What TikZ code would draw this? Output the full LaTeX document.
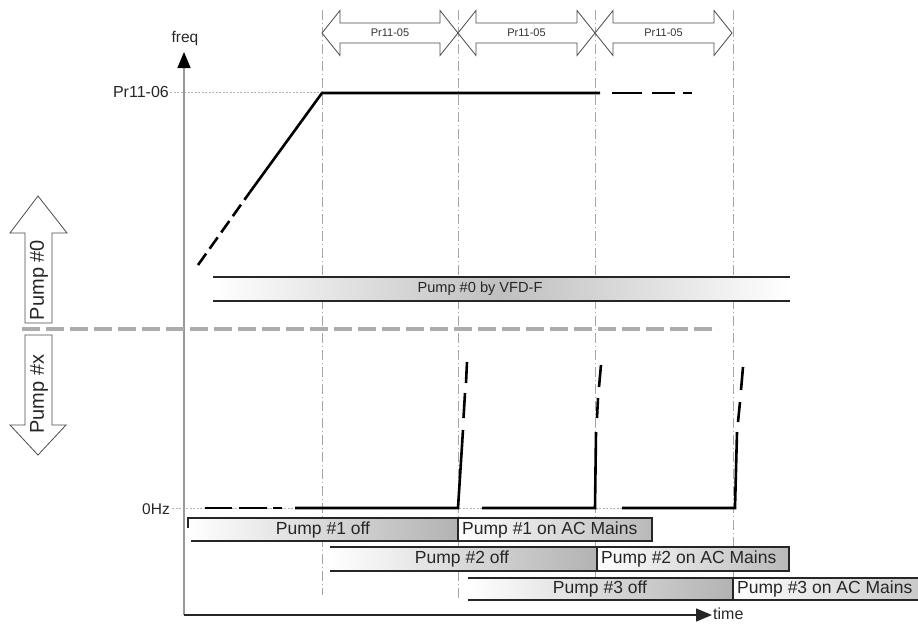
\documentclass[tikz,border=0pt]{standalone}
\usepackage{fontspec}
\setmainfont{Liberation Sans}
\usetikzlibrary{arrows.meta}
\tikzset{
  curve/.style={line width=2.6pt, black},
  vguide/.style={gray!70, line width=0.7pt, dash pattern=on 10pt off 3pt on 1pt off 3pt},
  dotguide/.style={gray!60, line width=0.8pt, dash pattern=on 2pt off 1.5pt},
  barline/.style={line width=1.3pt, black!85},
  bartext/.style={inner sep=0pt, font=\fontsize{17.5}{20}\selectfont, text=black!85},
  arrowbox/.style={draw=black!70, line width=0.8pt, fill=white},
  axislabel/.style={inner sep=0pt, font=\fontsize{16}{18}\selectfont, text=black!85}
}
\begin{document}
\begin{tikzpicture}[x=1pt,y=-1pt]
\useasboundingbox (0,0) rectangle (918,627);

% vertical guide lines
\draw[vguide] (322,10) -- (322,595);
\draw[vguide] (458,10) -- (458,598);
\draw[vguide] (595,10) -- (595,578);
\draw[vguide] (733,10) -- (733,578);

% dotted level lines
\draw[dotguide] (170,92) -- (322,92);
\draw[dotguide] (172,508) -- (735,508);

% Pr11-05 double arrows
\foreach \xa/\xb/\nm in {322/458/pa,458/595/pb,595/732/pc}{
  \draw[arrowbox] (\xa,33) -- (\xa+18,10.5) -- (\xa+18,23) -- (\xb-18,23) -- (\xb-18,10.5)
     -- (\xb,33) -- (\xb-18,55.5) -- (\xb-18,43) -- (\xa+18,43) -- (\xa+18,55.5) -- cycle;
  \node[inner sep=0pt, font=\fontsize{11}{12}\selectfont, text=black!80] (\nm) at ({(\xa+\xb)/2},33) {Pr11-05};
}

% axes
\coordinate (origin) at (184,615);
\coordinate (ytop) at (184,52);
\coordinate (xend) at (712,615);
\draw[gray!80, line width=1.4pt, -{Triangle[length=16pt,width=13pt,color=black]}] (origin) -- (ytop);
\draw[black!85, line width=1.4pt, -{Triangle[length=16pt,width=13pt]}] (origin) -- (xend);
\node[axislabel, font=\fontsize{15.5}{18}\selectfont] (freq) at (185,38) {freq};
\node[axislabel, anchor=west] (time) at (713,614) {time};
\node[axislabel, anchor=east] (pr1106) at (169,92) {Pr11-06};
\node[axislabel, anchor=east, font=\fontsize{15.5}{18}\selectfont] (zerohz) at (170,509) {0Hz};

% Pump #0 / Pump #x arrows
\draw[arrowbox] (38,196) -- (67,233) -- (52,233) -- (52,323) -- (25,323) -- (25,233) -- (10,233) -- cycle;
\node[inner sep=0pt, rotate=90, font=\fontsize{20}{22}\selectfont, text=black!85] (p0) at (39,280) {Pump \#0};
\draw[arrowbox] (38,455) -- (66,425) -- (52,425) -- (52,335) -- (25,335) -- (25,425) -- (10,425) -- cycle;
\node[inner sep=0pt, rotate=90, font=\fontsize{20}{22}\selectfont, text=black!85] (px) at (39,394) {Pump \#x};

% separator
\draw[gray!65, line width=4pt, dash pattern=on 18pt off 6pt] (22,329) -- (718,329);

% Pump #0 by VFD-F bar
\shade[left color=white, right color=white, middle color=gray!50] (213,277) rectangle (790,301);
\draw[barline] (213,277) -- (790,277);
\draw[barline] (213,301) -- (790,301);
\node[inner sep=0pt, font=\fontsize{14.6}{17}\selectfont, text=black!85] (vfd) at (480,289) {Pump \#0 by VFD-F};

% pump bars
\shade[left color=white, right color=gray!60] (188,518) rectangle (458,541);
\draw[barline] (188,528) -- (188,518) -- (458,518);
\draw[barline] (191,541) -- (458,541);
\node[bartext] (p1off) at (323,529.5) {Pump \#1 off};
\shade[left color=white, right color=gray!55] (458,518) rectangle (652,541);
\draw[barline] (458,518) rectangle (652,541);
\node[bartext, anchor=west] (p1on) at (462,529.5) {Pump \#1 on AC Mains};

\shade[left color=white, right color=gray!60] (330,547) rectangle (597,571);
\draw[barline] (330,547) -- (597,547);
\draw[barline] (330,571) -- (597,571);
\node[bartext] (p2off) at (462,559) {Pump \#2 off};
\shade[left color=white, right color=gray!55] (597,547) rectangle (789,571);
\draw[barline] (597,547) rectangle (789,571);
\node[bartext, anchor=west] (p2on) at (601,559) {Pump \#2 on AC Mains};

\shade[left color=white, right color=gray!60] (468,578) rectangle (733,600);
\draw[barline] (468,578) -- (733,578);
\draw[barline] (468,600) -- (733,600);
\node[bartext] (p3off) at (600,589) {Pump \#3 off};
\shade[left color=white, right color=gray!45] (733,578) rectangle (930,600);
\draw[barline] (930,578) -- (733,578) -- (733,600) -- (930,600);
\node[bartext, anchor=west] (p3on) at (737,589) {Pump \#3 on AC Mains};

% frequency curve of pump #0
\draw[curve, dash pattern=on 14pt off 6pt] (198,265) -- (250,192);
\draw[curve] (250,192) -- (322,93) -- (600,93);
\draw[curve] (612,93) -- (642,93);
\draw[curve] (652,93) -- (675,93);
\draw[curve] (683,93) -- (692,93);

% frequency curves of pumps #x
\draw[curve] (205,508) -- (232,508);
\draw[curve] (239,508) -- (267,508);
\draw[curve] (273,508) -- (282,508);
\draw[curve] (295,508) -- (458,508) -- (463,430);
\draw[curve] (463.5,418) -- (465,393);
\draw[curve] (466,383) -- (467,362);

\draw[curve] (482,508) -- (595,508) -- (596,432);
\draw[curve] (597,418) -- (598,398);
\draw[curve] (599,387) -- (601,365);

\draw[curve] (622,508) -- (735,508) -- (737,432);
\draw[curve] (738,422) -- (740,402);
\draw[curve] (741,390) -- (743,367);
\end{tikzpicture}
\end{document}
